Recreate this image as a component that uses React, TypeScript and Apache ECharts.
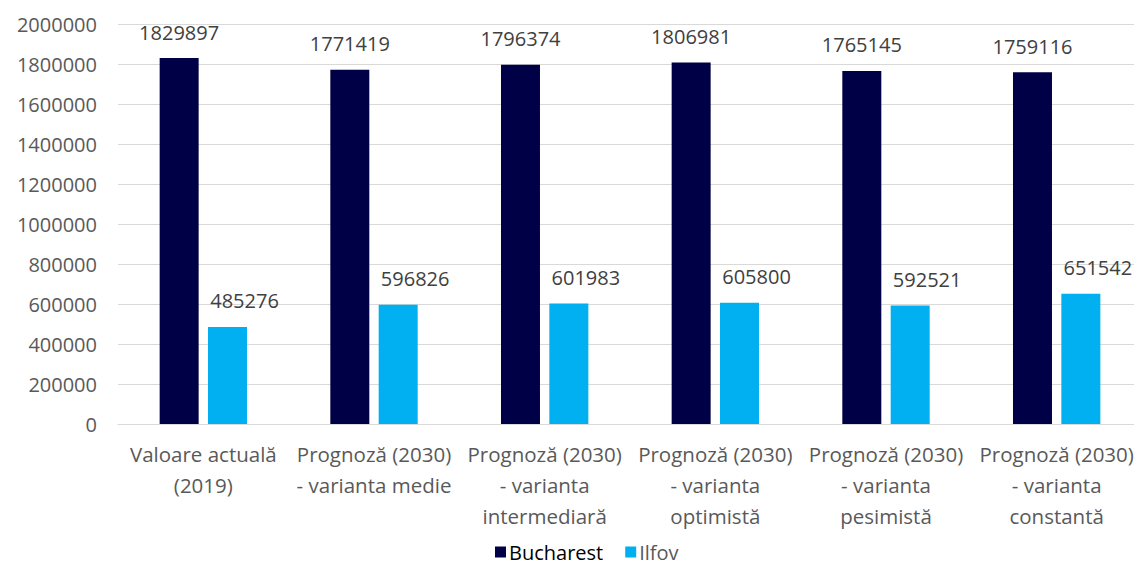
import React, { useEffect, useRef } from "react";
import * as echarts from "echarts";

const categories = [
  "Valoare actuală\n(2019)",
  "Prognoză (2030)\n- varianta medie",
  "Prognoză (2030)\n- varianta\nintermediară",
  "Prognoză (2030)\n- varianta\noptimistă",
  "Prognoză (2030)\n- varianta\npesimistă",
  "Prognoză (2030)\n- varianta\nconstantă",
];
const bucharest = [1829897, 1771419, 1796374, 1806981, 1765145, 1759116];
const ilfov = [485276, 596826, 601983, 605800, 592521, 651542];

const FONT = "'Open Sans', sans-serif";

export default function App() {
  const ref = useRef<HTMLDivElement>(null);
  useEffect(() => {
    if (!ref.current) return;
    const chart = echarts.init(ref.current, undefined, { renderer: "svg" });
    const label = {
      show: true,
      position: "top" as const,
      distance: 16,
      color: "#404040",
      fontSize: 20,
      fontFamily: FONT,
    };
    chart.setOption({
      animation: false,
      textStyle: { fontFamily: FONT },
      grid: { left: 118, right: 0, top: 24, bottom: 150, containLabel: false },
      legend: {
        left: 490,
        top: 537,
        itemWidth: 11,
        itemHeight: 11,
        itemGap: 22,
        icon: "rect",
        textStyle: { fontSize: 20, fontFamily: FONT, color: "#595959", padding: [0, 0, 0, -2] },
        data: [
          { name: "Bucharest", textStyle: { color: "#000000" } },
          { name: "Ilfov" },
        ],
      },
      xAxis: {
        type: "category",
        data: categories,
        axisLine: { show: true, lineStyle: { color: "#d9d9d9" } },
        axisTick: { show: false },
        axisLabel: {
          color: "#595959",
          fontSize: 20.5,
          fontFamily: FONT,
          lineHeight: 31,
          margin: 14,
          interval: 0,
        },
      },
      yAxis: {
        type: "value",
        min: 0,
        max: 2000000,
        interval: 200000,
        axisLine: { show: false },
        axisTick: { show: false },
        splitLine: { lineStyle: { color: "#d9d9d9" } },
        axisLabel: {
          color: "#595959",
          fontSize: 20,
          fontFamily: FONT,
          margin: 21,
          formatter: (v: number) => String(v),
        },
      },
      series: [
        {
          name: "Bucharest",
          type: "bar",
          data: bucharest,
          barWidth: 39,
          barGap: "24%",
          itemStyle: { color: "#000046" },
          label,
        },
        {
          name: "Ilfov",
          type: "bar",
          data: ilfov,
          barWidth: 39,
          itemStyle: { color: "#00B0F0" },
          label: { ...label, offset: [17, 0] },
        },
      ],
    });
    return () => chart.dispose();
  }, []);
  return <div ref={ref} style={{ width: 1142, height: 574, margin: -8 }} />;
}
